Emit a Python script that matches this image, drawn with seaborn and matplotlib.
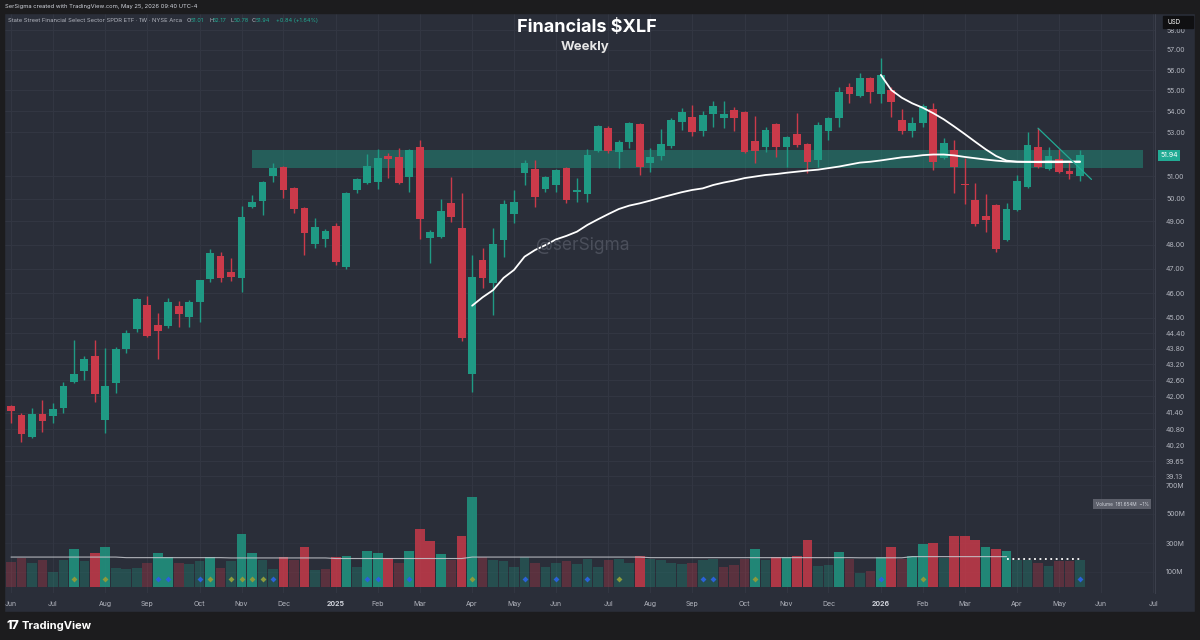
import numpy as np
import pandas as pd
import seaborn as sns
import matplotlib
matplotlib.use("Agg")
import matplotlib.pyplot as plt
from matplotlib.colors import to_rgba
from matplotlib.patches import Rectangle
from matplotlib.ticker import FixedLocator, FixedFormatter, NullLocator
from matplotlib.transforms import blended_transform_factory

# weekly XLF bars, first bar = week of 2024-06-03
week_start = "2024-06-03"
n_axis_weeks = 110   # axis runs on into July 2026

opens = [41.64, 41.31, 40.52, 41.35, 41.27, 41.57, 42.53, 42.95, 43.52, 41.13,
         42.49, 43.79, 44.57, 45.52, 44.72, 44.68, 45.48, 45.04, 45.64, 46.57,
         47.53, 46.86, 46.61, 49.63, 49.89, 51.00, 51.41, 50.47, 49.59, 48.03,
         48.24, 48.80, 47.07, 50.38, 50.69, 50.73, 51.91, 51.87, 50.96, 52.33,
         48.28, 48.33, 49.81, 48.72, 42.83, 47.36, 46.41, 48.20, 49.32, 51.13,
         51.31, 50.42, 50.60, 51.36, 50.29, 50.20, 52.14, 53.22, 52.10, 52.56,
         53.40, 51.59, 51.91, 52.37, 53.50, 53.73, 53.07, 53.87, 53.68, 54.06,
         53.97, 52.60, 52.33, 53.40, 52.33, 52.93, 52.47, 51.73, 53.07, 53.68,
         55.17, 54.73, 55.61, 54.82, 55.02, 53.59, 53.07, 53.45, 54.11, 51.82,
         52.19, 50.64, 49.94, 49.24, 49.72, 48.20, 49.50, 50.51, 52.33, 51.31,
         51.77, 51.22, 51.01]
highs = [41.68, 41.38, 41.57, 41.86, 41.75, 42.53, 44.14, 43.52, 44.14, 43.83,
         43.85, 44.53, 45.80, 45.88, 45.20, 45.80, 45.68, 45.72, 46.55, 47.82,
         47.70, 47.44, 49.68, 50.16, 50.78, 51.59, 51.45, 50.50, 49.62, 49.15,
         48.67, 48.93, 50.29, 50.91, 52.00, 52.24, 52.05, 52.28, 52.25, 52.65,
         48.63, 49.98, 50.96, 50.25, 47.57, 47.86, 48.72, 49.94, 50.38, 51.73,
         51.73, 51.00, 51.30, 51.40, 50.91, 52.24, 53.36, 53.31, 52.65, 53.50,
         53.45, 52.28, 53.17, 53.68, 54.16, 54.30, 54.00, 54.49, 54.49, 54.20,
         54.00, 53.78, 53.26, 53.45, 52.84, 53.92, 52.50, 53.50, 53.73, 55.17,
         55.36, 55.86, 55.65, 56.60, 55.17, 54.11, 53.73, 54.35, 54.40, 52.75,
         52.65, 51.82, 50.69, 50.20, 49.76, 49.81, 51.04, 53.03, 53.22, 52.33,
         52.24, 51.64, 52.17]
lows = [41.02, 40.34, 40.48, 40.70, 41.02, 41.38, 42.50, 42.60, 41.79, 40.66,
        42.12, 43.63, 44.45, 44.25, 43.40, 44.60, 44.64, 44.64, 44.84, 46.45,
        46.45, 46.49, 46.04, 49.59, 49.28, 50.73, 50.03, 49.37, 47.57, 47.86,
        47.91, 47.15, 47.00, 50.25, 50.64, 50.42, 50.91, 50.64, 50.29, 48.24,
        47.24, 48.30, 48.97, 44.10, 42.16, 46.20, 45.12, 47.49, 48.93, 50.60,
        49.63, 50.29, 50.29, 49.81, 49.85, 49.85, 52.10, 52.05, 51.36, 52.28,
        51.04, 51.18, 51.73, 52.28, 53.12, 52.84, 52.84, 53.26, 53.22, 53.07,
        52.06, 51.59, 52.10, 51.87, 51.41, 52.33, 51.13, 51.41, 52.65, 53.26,
        54.40, 54.68, 54.40, 54.40, 53.73, 52.93, 52.79, 53.26, 51.27, 51.77,
        50.25, 49.76, 48.80, 48.54, 47.70, 48.15, 49.45, 50.47, 51.36, 51.27,
        51.13, 50.87, 50.78]
closes = [41.45, 40.62, 41.35, 41.09, 41.53, 42.38, 42.83, 43.40, 42.08, 42.38,
          43.79, 44.41, 45.76, 44.29, 44.49, 45.64, 45.16, 45.64, 46.53, 47.65,
          46.60, 46.64, 49.19, 49.85, 50.73, 51.36, 50.38, 49.54, 48.50, 48.76,
          48.59, 47.28, 50.25, 50.87, 51.45, 51.82, 51.77, 50.69, 52.19, 49.10,
          48.54, 49.45, 49.19, 44.22, 46.66, 46.60, 48.03, 49.76, 49.85, 51.59,
          50.07, 50.96, 51.27, 49.94, 50.38, 51.96, 53.31, 52.14, 52.56, 53.45,
          51.41, 51.87, 52.47, 53.59, 53.97, 53.03, 53.83, 54.25, 53.87, 53.68,
          52.10, 52.16, 53.12, 52.33, 52.79, 52.42, 51.64, 53.35, 53.68, 54.92,
          54.82, 55.61, 54.92, 55.76, 54.44, 53.07, 53.45, 54.25, 51.64, 52.51,
          51.41, 50.60, 48.89, 49.06, 47.82, 49.54, 50.78, 52.42, 51.41, 51.91,
          51.18, 51.10, 51.94]

# volume in millions of shares
volume = [171, 198, 160, 183, 102, 183, 259, 176, 233, 275,
          130, 121, 130, 160, 229, 204, 160, 155, 176, 202,
          125, 178, 362, 233, 183, 121, 202, 180, 270, 114,
          121, 202, 210, 137, 247, 229, 196, 164, 245, 394,
          312, 222, 183, 348, 615, 201, 183, 176, 132, 201,
          160, 137, 160, 176, 155, 190, 137, 183, 192, 160,
          210, 187, 183, 164, 155, 164, 183, 187, 137, 148,
          192, 262, 183, 206, 206, 210, 321, 141, 148, 238,
          192, 94, 107, 201, 270, 192, 212, 291, 302, 200,
          348, 348, 318, 272, 262, 245, 185, 180, 164, 141,
          178, 178, 181.654]
vol_ma = [203, 203, 203, 203, 203, 203, 203, 203, 203, 203, 203,
          199, 199, 199, 199, 199, 199, 199, 199, 199, 199,
          197, 197, 197, 197, 197, 197, 197, 197, 197, 197,
          193, 193, 193, 193, 193, 193, 193, 193, 193, 193, 193, 193, 193,
          203, 203, 203, 203, 203, 203, 203, 203, 203, 203, 203, 203, 203, 203, 203, 203, 203,
          199, 199, 199, 199, 199, 199, 199, 199, 199, 199,
          199, 199, 199, 199, 199, 199, 199, 199, 199, 199,
          198, 198, 198, 198, 198,
          206, 206, 206, 206, 206, 206, 206, 206, 206, 206]
vol_ma_tail = 190

# anchored VWAPs (from the Apr-2025 low and the Jan-2026 high)
vwap_apr_start = 44
vwap_apr = [45.49, 45.83, 46.12, 46.62, 46.95, 47.50, 47.78, 47.99, 48.23, 48.38,
            48.56, 48.85, 49.09, 49.32, 49.54, 49.69, 49.79, 49.91, 50.04, 50.16,
            50.28, 50.38, 50.45, 50.60, 50.71, 50.80, 50.91, 50.98, 51.05, 51.09,
            51.15, 51.20, 51.25, 51.29, 51.36, 51.43, 51.52, 51.61, 51.65, 51.71,
            51.78, 51.85, 51.89, 51.95, 51.98, 51.98, 51.94, 51.87, 51.81, 51.75,
            51.70, 51.66, 51.65, 51.64, 51.63, 51.63, 51.63, 51.64, 51.64]
vwap_jan_start = 83
vwap_jan = [55.76, 55.02, 54.65, 54.38, 54.17, 53.91, 53.62, 53.28, 52.93, 52.57,
            52.22, 51.91, 51.70, 51.65, 51.65, 51.65, 51.66, 51.66, 51.66, 51.66]

zone_x = [23, 108]
zone_lo, zone_hi = 51.36, 52.19
trend_x = [98.0, 103.1]
trend_y = [53.20, 50.85]

blue_marks = [14, 15, 18, 25, 34, 35, 38, 49, 52, 55, 66, 67, 83, 102]
olive_marks = [6, 9, 19, 21, 22, 23, 24, 44, 58, 71, 87]

price_ticks = [58, 57, 56, 55, 54, 53, 51, 50, 49, 48, 47, 46, 45, 44.40, 43.80,
               43.20, 42.60, 42.00, 41.40, 40.80, 40.20, 39.65, 39.13]
vol_ticks = [100, 300, 500, 700]

BG = "#2a2e39"
DARK = "#1c1c1e"
UP = "#1f9a84"
DOWN = "#cb3a4a"
GRID = "#333743"
TXT = "#b2b5be"

sns.set_style("dark", {"axes.facecolor": BG, "figure.facecolor": BG})
plt.rcParams["font.family"] = ["Inter", "DejaVu Sans"]
plt.rcParams["text.parse_math"] = False

W, H = 1200, 640
fig = plt.figure(figsize=(12, 6.4), dpi=100, facecolor=BG)


def fx(x):
    return x / W


def fy(y):
    return 1 - y / H


L, R, T, B = 4, 1155, 14, 593
rect = [fx(L), fy(B), (R - L) / W, (B - T) / H]
axv = fig.add_axes(rect)
ax = fig.add_axes(rect)
ax.patch.set_alpha(0)

n = len(opens)
idx = np.arange(n)
o, hi, lo, c = (np.array(a) for a in (opens, highs, lows, closes))
vol = np.array(volume)

x0 = (L - 11) / 10.48
x1 = (R - 11) / 10.48

# ---- volume pane (overlay) ----
prev = np.r_[o[0], c[:-1]]
ma_cmp = np.r_[vol_ma, [vol_ma_tail] * (n - len(vol_ma))]
vcols = [to_rgba(UP if c[i] >= prev[i] else DOWN, 0.82 if vol[i] > ma_cmp[i] else 0.3)
         for i in range(n)]
axv.bar(idx, vol, width=0.92, color=vcols, lw=0)
sns.lineplot(x=idx[:len(vol_ma)], y=vol_ma, ax=axv, color="#c8cad0", lw=0.8, alpha=0.85)
axv.plot([len(vol_ma) - 1, n - 1], [vol_ma_tail] * 2, color="white", lw=1.3,
         ls=(0, (1, 2)))
axv.scatter(blue_marks, [52] * len(blue_marks), marker="D", s=9, color="#2a62d8", lw=0, zorder=3)
axv.scatter(olive_marks, [52] * len(olive_marks), marker="D", s=9, color="#8c9a3c", lw=0, zorder=3)
axv.set_xlim(x0, x1)
axv.set_ylim(-(B - 586.5) / 0.145, (586.5 - T) / 0.145)
axv.set_xlabel("")
axv.set_ylabel("")

dates = pd.date_range(week_start, periods=n_axis_weeks, freq="7D")
tick_idx, tick_lab = [], []
for i, d in enumerate(dates):
    if i == 0 or d.month != dates[i - 1].month:
        tick_idx.append(i)
        tick_lab.append(str(d.year) if d.month == 1 else d.strftime("%b"))
axv.set_xticks(tick_idx)
axv.set_xticklabels(tick_lab)
axv.tick_params(axis="x", length=0, pad=5.5, labelsize=5, labelcolor=TXT)
for t in axv.get_xticklabels():
    if t.get_text().isdigit():
        t.set_fontweight("bold")
        t.set_color("#d1d4dc")
axv.grid(axis="x", color=GRID, lw=0.7)
axv.yaxis.tick_right()
axv.yaxis.set_major_locator(FixedLocator(vol_ticks))
axv.yaxis.set_major_formatter(FixedFormatter([f"{v}M" for v in vol_ticks]))
axv.tick_params(axis="y", length=0, pad=8, labelsize=5, labelcolor=TXT)
axv.grid(axis="y", color=GRID, lw=0.6, alpha=0.6)
for s in axv.spines.values():
    s.set_visible(False)

# ---- price pane ----
ax.set_yscale("log")
ax.fill_between(zone_x, zone_lo, zone_hi, color=UP, alpha=0.45, lw=0, zorder=1)
colors = np.where(c >= o, UP, DOWN)
ax.vlines(idx, lo, hi, colors=colors, lw=1, zorder=2)
body_lo = np.minimum(o, c)
body_h = np.maximum(np.abs(c - o), 0.03)
ax.bar(idx, body_h, bottom=body_lo, width=0.74, color=colors, lw=0, zorder=3)

sns.lineplot(x=idx[vwap_apr_start:], y=vwap_apr, ax=ax, color="white", lw=1.3, zorder=4)
sns.lineplot(x=idx[vwap_jan_start:], y=vwap_jan, ax=ax, color="white", lw=1.3, zorder=4)
ax.plot(trend_x, trend_y, color="#22ab94", lw=0.9, zorder=4)

ax.set_xlim(x0, x1)
ax.set_ylim(35.307, 58.839)
ax.set_xlabel("")
ax.set_ylabel("")
ax.set_xticks([])
ax.yaxis.tick_right()
ax.yaxis.set_major_locator(FixedLocator(price_ticks))
ax.yaxis.set_major_formatter(FixedFormatter([f"{v:.2f}" for v in price_ticks]))
ax.yaxis.set_minor_locator(NullLocator())
ax.tick_params(axis="y", which="both", length=0, pad=8, labelsize=5, labelcolor=TXT)
ax.grid(axis="y", color=GRID, lw=0.7)
for k, s in ax.spines.items():
    s.set_visible(k == "right")
ax.spines["right"].set_color("#3b3f4b")
ax.spines["right"].set_linewidth(0.8)

trans = blended_transform_factory(ax.transAxes, ax.transData)
ax.text(1.0045, c[-1], f"{c[-1]:.2f}", transform=trans, va="center", ha="left",
        fontsize=5, color="white", clip_on=False, zorder=6,
        bbox=dict(boxstyle="square,pad=0.35", fc="#22ab94", ec="none"))

# ---- frame, strips and texts ----
fig.patches.append(Rectangle((0, fy(13)), 1, 13 / H, transform=fig.transFigure,
                             color=DARK, zorder=0))
fig.patches.append(Rectangle((0, 0), 1, (H - 612) / H, transform=fig.transFigure,
                             color=DARK, zorder=0))
fig.patches.append(Rectangle((0, 0), fx(4), 1, transform=fig.transFigure,
                             color=DARK, zorder=0))
fig.patches.append(Rectangle((fx(1195), 0), fx(5), 1, transform=fig.transFigure,
                             color=DARK, zorder=0))
fig.patches.append(Rectangle((fx(1163), fy(28)), fx(30), 12 / H, transform=fig.transFigure,
                             color="#101012", zorder=5))
fig.text(fx(1167), fy(22), "USD", fontsize=4.5, color="white", va="center", zorder=6)

fig.text(fx(5), fy(6.5), "SerSigma created with TradingView.com, May 25, 2026 09:40 UTC-4",
         fontsize=4.2, color="#d1d4dc", va="center")
fig.text(fx(8), fy(20.5), "State Street Financial Select Sector SPDR ETF · 1W · NYSE Arca",
         fontsize=4.2, color=TXT, va="center")
for xp, s, col in [(187, "O", TXT), (191, "51.01", "#22ab94"), (209, "H", TXT),
                   (213, "52.17", "#22ab94"), (230, "L", TXT), (233.5, "50.78", "#22ab94"),
                   (252, "C", TXT), (256, "51.94", "#22ab94"),
                   (276, "+0.84 (+1.64%)", "#22ab94")]:
    fig.text(fx(xp), fy(20.5), s, fontsize=4.0, color=col, va="center")

fig.text(fx(587), fy(28), "Financials $XLF", fontsize=13, fontweight="bold",
         color="white", ha="center", va="center")
fig.text(fx(585), fy(47), "Weekly", fontsize=9.5, fontweight="bold",
         color="#e6e6e6", ha="center", va="center")
fig.text(fx(583), fy(246), "@serSigma", fontsize=12.5, color="#4b4f5b",
         ha="center", va="center")
fig.text(fx(1122), fy(504), "Volume  181.654M  −1%", fontsize=3.4, color="#d1d4dc",
         ha="center", va="center",
         bbox=dict(boxstyle="square,pad=0.5", fc="#5d606b", ec="none"))

fig.text(fx(6), fy(626), "17", fontsize=9, fontweight="heavy", color="white", va="center")
fig.text(fx(22), fy(626), "TradingView", fontsize=8, fontweight="bold", color="white",
         va="center")

fig.savefig("out.png", dpi=100, facecolor=BG)
